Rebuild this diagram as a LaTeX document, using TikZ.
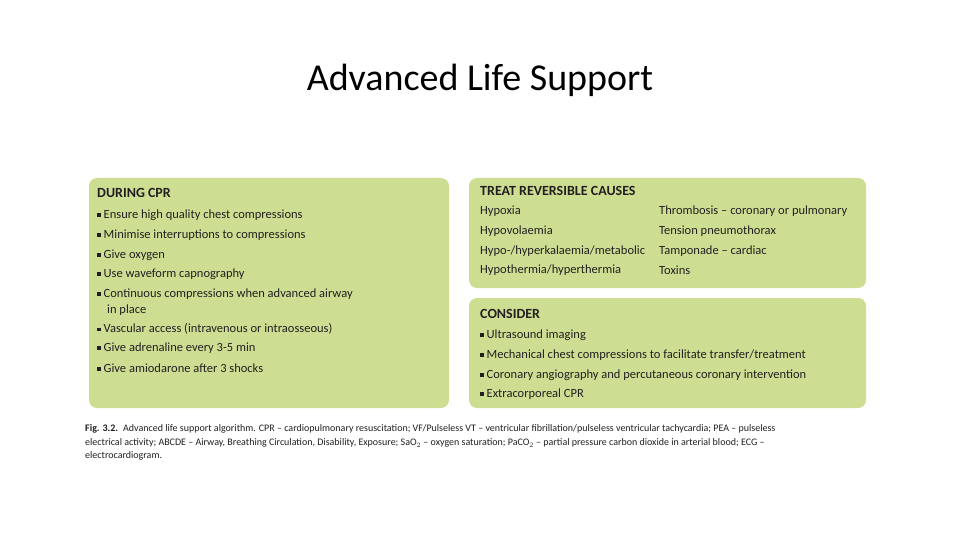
\documentclass[tikz,border=0pt]{standalone}
\usepackage{fontspec}
\setmainfont{Carlito}
\definecolor{boxg}{HTML}{CDDE93}
\definecolor{txt}{HTML}{231F20}
\begin{document}
\begin{tikzpicture}[x=1pt,y=-1pt,
  panel/.style={fill=boxg,draw=none,rounded corners=8pt},
  hd/.style={anchor=west,inner sep=0pt,font=\fontsize{14}{16}\selectfont\bfseries,text=txt},
  it/.style={anchor=west,inner sep=0pt,font=\fontsize{12.5}{14}\selectfont,text=txt},
  captext/.style={anchor=west,inner sep=0pt,font=\fontsize{10}{12}\selectfont,text=txt}]
\newcommand{\bul}{\raisebox{1.5pt}{\rule{3.5pt}{3.5pt}}\hspace{3pt}}
\useasboundingbox (0,0) rectangle (960,540);
\fill[white] (0,0) rectangle (960,540);
\node[inner sep=0pt,font=\fontsize{38}{44}\selectfont] (title) at (480,80) {Advanced Life Support};
\fill[panel] (89,178) rectangle (449,408);
\fill[panel] (469,178) rectangle (866,288);
\fill[panel] (469,298) rectangle (866,408);
% left
\node[hd] (l0) at (97,193) {DURING CPR};
\node[it] (l1) at (97,215) {\bul Ensure high quality chest compressions};
\node[it] (l2) at (97,235) {\bul Minimise interruptions to compressions};
\node[it] (l3) at (97,255) {\bul Give oxygen};
\node[it] (l4) at (97,274) {\bul Use waveform capnography};
\node[it] (l5) at (97,294) {\bul Continuous compressions when advanced airway};
\node[it] (l5b) at (107,310) {in place};
\node[it] (l6) at (97,329) {\bul Vascular access (intravenous or intraosseous)};
\node[it] (l7) at (97,348) {\bul Give adrenaline every 3-5 min};
\node[it] (l8) at (97,368) {\bul Give amiodarone after 3 shocks};
% right top
\node[hd] (r0) at (480,191) {TREAT REVERSIBLE CAUSES};
\node[it] (r1) at (480,211) {Hypoxia};
\node[it] (r2) at (480,231) {Hypovolaemia};
\node[it] (r3) at (480,251) {Hypo-/hyperkalaemia/metabolic};
\node[it] (r4) at (480,270) {Hypothermia/hyperthermia};
\node[it] (s1) at (659,211) {Thrombosis -- coronary or pulmonary};
\node[it] (s2) at (659,231) {Tension pneumothorax};
\node[it] (s3) at (659,251) {Tamponade -- cardiac};
\node[it] (s4) at (659,270) {Toxins};
% right bottom
\node[hd] (c0) at (480,314) {CONSIDER};
\node[it] (c1) at (480,335) {\bul Ultrasound imaging};
\node[it] (c2) at (480,355) {\bul Mechanical chest compressions to facilitate transfer/treatment};
\node[it] (c3) at (480,375) {\bul Coronary angiography and percutaneous coronary intervention};
\node[it] (c4) at (480,394) {\bul Extracorporeal CPR};
% caption
\node[captext] (k1) at (85,429) {\textbf{Fig. 3.2.}\enspace Advanced life support algorithm. CPR -- cardiopulmonary resuscitation; VF/Pulseless VT -- ventricular fibrillation/pulseless ventricular tachycardia; PEA -- pulseless};
\node[captext] (k2) at (85,443) {electrical activity; ABCDE -- Airway, Breathing Circulation, Disability, Exposure; SaO$_2$ -- oxygen saturation; PaCO$_2$ -- partial pressure carbon dioxide in arterial blood; ECG --};
\node[captext] (k3) at (85,456) {electrocardiogram.};
\end{tikzpicture}
\end{document}
